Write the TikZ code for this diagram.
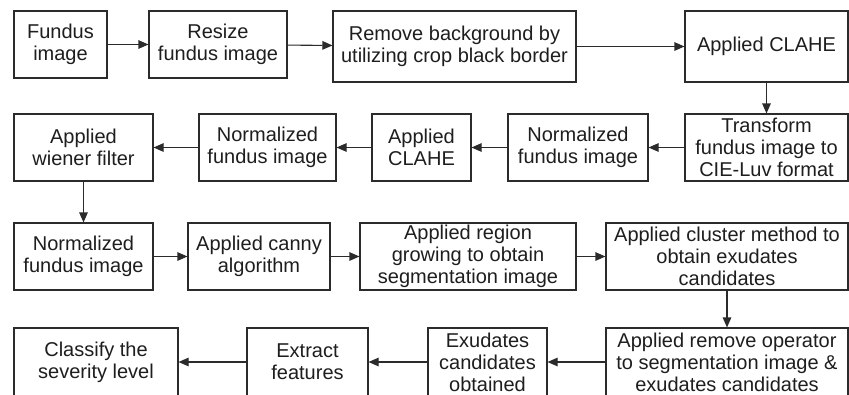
\documentclass[tikz,border=0pt]{standalone}
\usepackage{fontspec}
\setmainfont{Liberation Sans}
\usepackage{xcolor}
\usetikzlibrary{arrows.meta,positioning}
\definecolor{edge}{HTML}{2B2B2B}
\definecolor{ink}{HTML}{1E1E1E}

\begin{document}
\begin{tikzpicture}[x=1pt,y=-1pt,font=\fontsize{20}{22}\selectfont,box/.style={draw=edge,line width=1.1pt,fill=white,text=ink,align=center,inner sep=1pt,minimum width=#1},box/.default=100pt,flow/.style={-{Triangle[length=10pt,width=8.5pt]},line width=1.1pt,draw=edge}]
  \useasboundingbox (0,0) rectangle (849,394);
  % first row
  \node[box=93pt,minimum height=67pt] (fundus) at (60.5,44.5) {Fundus\\image};
  \node[box=138pt,minimum height=67pt] (resize) at (218,44.5) {Resize\\fundus image};
  \node[box=243pt,minimum height=71pt] (crop) at (454.5,46.5) {Remove background by\\utilizing crop black border};
  \node[box=163pt,minimum height=71pt] (clahe) at (766.5,46.5) {Applied CLAHE};
  % second row
  \node[box=163pt,minimum height=67pt] (luv) at (766.5,147.5) {Transform\\fundus image to\\CIE-Luv format};
  \node[box=140pt,minimum height=67pt] (norma) at (578,147.5) {Normalized\\fundus image};
  \node[box=99pt,minimum height=67pt] (claheb) at (421.5,147.5) {Applied\\CLAHE};
  \node[box=137pt,minimum height=67pt] (normb) at (267.5,147.5) {Normalized\\fundus image};
  \node[box=139pt,minimum height=67pt] (wiener) at (83.5,147.5) {Applied\\wiener filter};
  % third row
  \node[box=139pt,minimum height=67pt] (normc) at (83.5,256.5) {Normalized\\fundus image};
  \node[box=142pt,minimum height=67pt] (canny) at (259,256.5) {Applied canny\\algorithm};
  \node[box=216pt,minimum height=67pt] (region) at (468,256.5) {Applied region\\growing to obtain\\segmentation image};
  \node[box=242pt,minimum height=67pt] (cluster) at (727,256.5) {Applied cluster method to\\obtain exudates\\candidates};
  % fourth row
  \node[box=242pt,minimum height=68pt] (remove) at (727,362) {Applied remove operator\\to segmentation image \&\\exudates candidates};
  \node[box=119pt,minimum height=68pt] (exudates) at (487.5,362) {Exudates\\candidates\\obtained};
  \node[box=121pt,minimum height=68pt] (extract) at (307.5,362) {Extract\\features};
  \node[box=164pt,minimum height=68pt] (classify) at (96,362) {Classify the\\severity level};
  \draw[flow] (fundus) -- (resize);
  \draw[flow] (resize) -- (crop);
  \draw[flow] (crop) -- (clahe);
  \draw[flow] (clahe.south) -- (luv.north);
  \draw[flow] (luv) -- (norma);
  \draw[flow] (norma) -- (claheb);
  \draw[flow] (claheb) -- (normb);
  \draw[flow] (normb) -- (wiener);
  \draw[flow] (wiener.south) -- (normc.north);
  \draw[flow] (normc) -- (canny);
  \draw[flow] (canny) -- (region);
  \draw[flow] (region) -- (cluster);
  \draw[flow] (cluster.south) -- (remove.north);
  \draw[flow] (remove) -- (exudates);
  \draw[flow] (exudates) -- (extract);
  \draw[flow] (extract) -- (classify);
\end{tikzpicture}
\end{document}
